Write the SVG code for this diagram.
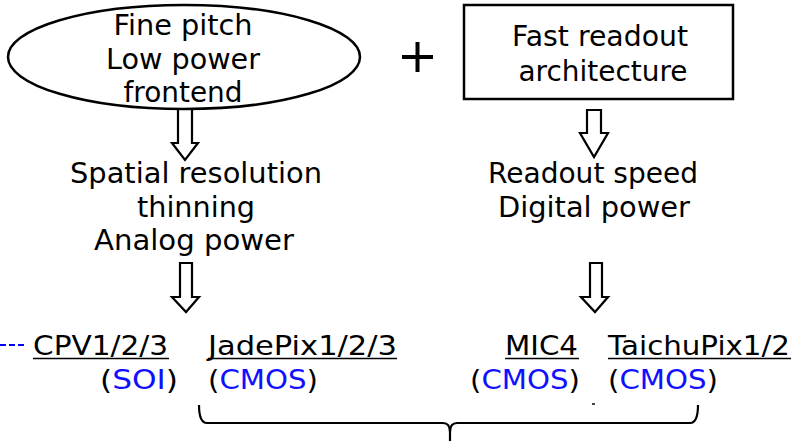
<svg xmlns="http://www.w3.org/2000/svg" width="792" height="441" viewBox="0 0 792 441">
<style>
text{font-family:"DejaVu Sans","Verdana",sans-serif;font-size:27.5px;fill:#000}
.s{font-size:26.5px}
.c{text-anchor:middle}
.b{fill:#1010ff}
.shape{fill:#fff;stroke:#000;stroke-width:2.5}
.arr{fill:#fff;stroke:#000;stroke-width:2.2;stroke-linejoin:miter}
.ul{stroke:#000;stroke-width:1.5}
</style>
<rect width="792" height="441" fill="#fff"/>
<g id="connectors">
<polygon class="arr" points="178,106 192,106 192,143 198,143 185,160 172,143 178,143"/>
<polygon class="arr" points="587,110 601,110 601,133 608,133 594,157 580,133 587,133"/>
<polygon class="arr" points="180,263 192,263 192,297 199,297 186,312 172,297 180,297"/>
<polygon class="arr" points="590,263 602,263 602,297 608,297 595,312 581,297 590,297"/>
<line x1="0" y1="345" x2="25" y2="345" stroke="#0000ff" stroke-width="2" stroke-dasharray="6,3"/>
<path d="M199,405 Q199,423 207,423 L443,423 Q450,423 450,432 L450,441 M450,432 Q450,423 457,423 L690,423 Q698,423 698,405" fill="none" stroke="#000" stroke-width="2.2"/>
<rect x="592" y="403" width="3" height="2" fill="#444"/>
</g>
<g id="frontend">
<ellipse class="shape" cx="184" cy="57" rx="176" ry="52"/>
<text class="c" x="183" y="35" textLength="139" lengthAdjust="spacingAndGlyphs">Fine pitch</text>
<text class="c" x="183" y="69" textLength="154" lengthAdjust="spacingAndGlyphs">Low power</text>
<text class="c" x="183" y="102" textLength="119" lengthAdjust="spacingAndGlyphs">frontend</text>
</g>
<g id="plus">
<path d="M402,57 H433 M417.5,42 V72" stroke="#000" stroke-width="4" fill="none"/>
</g>
<g id="readout">
<rect class="shape" x="464" y="5" width="269" height="94"/>
<text class="c" x="600" y="46" textLength="176" lengthAdjust="spacingAndGlyphs">Fast readout</text>
<text class="c" x="603" y="81" textLength="169" lengthAdjust="spacingAndGlyphs">architecture</text>
</g>
<g id="spatial">
<text class="c" x="196" y="183" textLength="252" lengthAdjust="spacingAndGlyphs">Spatial resolution</text>
<text class="c" x="196" y="217" textLength="118" lengthAdjust="spacingAndGlyphs">thinning</text>
<text class="c" x="194" y="250" textLength="200" lengthAdjust="spacingAndGlyphs">Analog power</text>
</g>
<g id="speed">
<text class="c" x="593" y="183" textLength="210" lengthAdjust="spacingAndGlyphs">Readout speed</text>
<text class="c" x="594" y="217" textLength="192" lengthAdjust="spacingAndGlyphs">Digital power</text>
</g>
<g id="cpv">
<text class="s" x="33" y="355" textLength="135" lengthAdjust="spacingAndGlyphs">CPV1/2/3</text>
<line class="ul" x1="33" y1="358.5" x2="169" y2="358.5"/>
<text class="s" x="100" y="389" textLength="78" lengthAdjust="spacingAndGlyphs">(<tspan class="b">SOI</tspan>)</text>
</g>
<g id="jadepix">
<text class="s" x="208" y="355" textLength="189" lengthAdjust="spacingAndGlyphs">JadePix1/2/3</text>
<line class="ul" x1="208" y1="358.5" x2="397" y2="358.5"/>
<text class="s" x="208" y="389" textLength="110" lengthAdjust="spacingAndGlyphs">(<tspan class="b">CMOS</tspan>)</text>
</g>
<g id="mic4">
<text class="s" x="505" y="355" textLength="73" lengthAdjust="spacingAndGlyphs">MIC4</text>
<line class="ul" x1="505" y1="358.5" x2="579" y2="358.5"/>
<text class="s" x="470" y="389" textLength="110" lengthAdjust="spacingAndGlyphs">(<tspan class="b">CMOS</tspan>)</text>
</g>
<g id="taichupix">
<text class="s" x="608" y="355" textLength="182" lengthAdjust="spacingAndGlyphs">TaichuPix1/2</text>
<line class="ul" x1="608" y1="358.5" x2="791" y2="358.5"/>
<text class="s" x="608" y="389" textLength="110" lengthAdjust="spacingAndGlyphs">(<tspan class="b">CMOS</tspan>)</text>
</g>
</svg>
